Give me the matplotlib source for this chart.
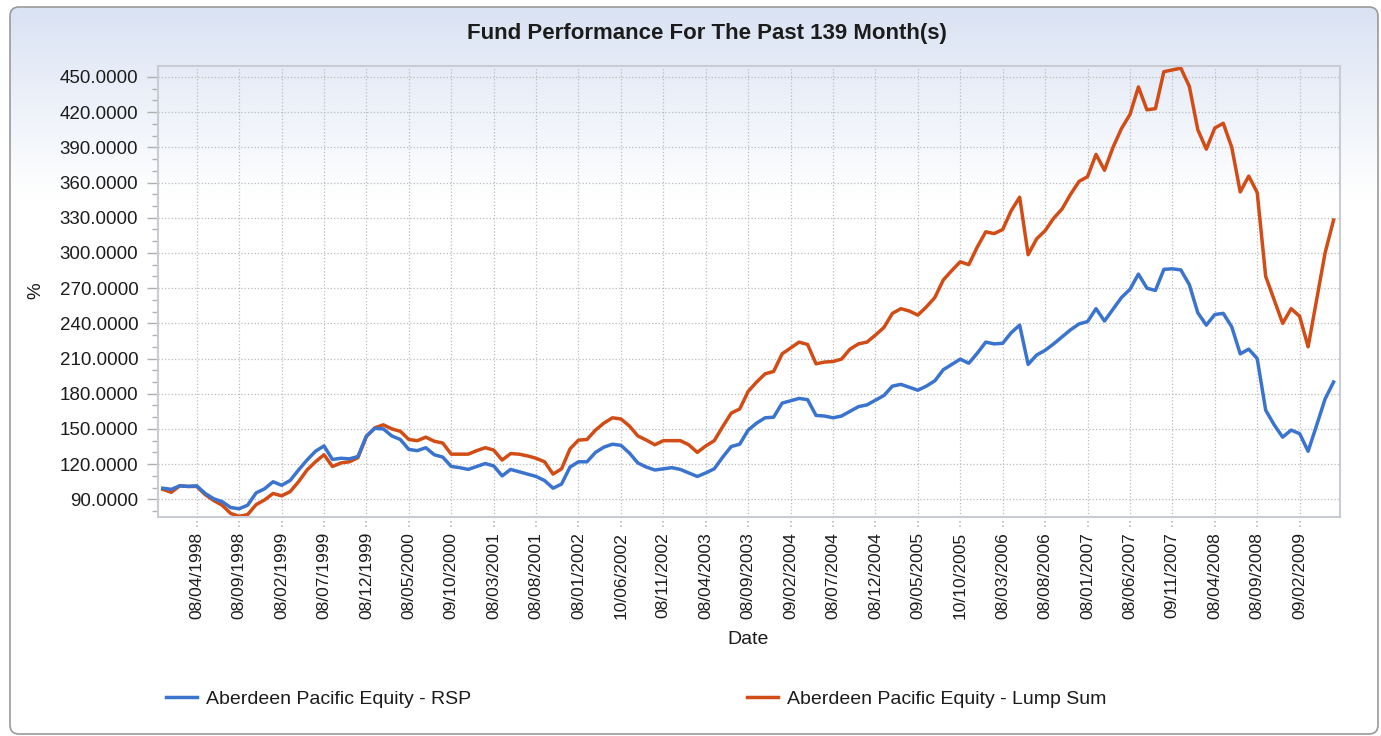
import numpy as np
import matplotlib
matplotlib.use('Agg')
import matplotlib.pyplot as plt
from matplotlib.patches import FancyBboxPatch
from matplotlib.lines import Line2D
from matplotlib.ticker import MultipleLocator, FormatStrFormatter

plt.rcParams['font.family'] = ['Liberation Sans', 'DejaVu Sans']

title = 'Fund Performance For The Past 139 Month(s)'
series_names = ['Aberdeen Pacific Equity - RSP', 'Aberdeen Pacific Equity - Lump Sum']

# monthly values, Dec 1997 .. Jun 2009 (139 months)
rsp = [
    99.5, 98.5, 101.5, 101, 101.5, 95, 90.5, 88, 83, 82,
    85, 95.5, 99, 105, 102, 106, 115, 123.5, 131, 135.5,
    124, 125, 124.5, 126.5, 144, 150.5, 150, 144, 141, 132.5,
    131.5, 134, 128, 126, 118, 117, 115.5, 118, 120.5, 118.5,
    110, 115.5, 113.5, 111.5, 109.5, 106, 99.5, 103, 117.5, 122,
    122, 130, 134.5, 137, 136, 129.5, 121, 117.5, 115, 116,
    117, 115.5, 112.5, 109.5, 112.5, 116, 126, 135, 137, 149,
    155, 159.5, 160, 172, 174, 176, 175, 161.5, 161, 159.5,
    161, 165, 169, 170.5, 174.5, 178.5, 186.5, 188, 185.5, 183,
    186.5, 191, 200.5, 205, 209.5, 206, 214.5, 224, 222.5, 223,
    232, 238.5, 205, 213, 217, 222.5, 228.5, 234.5, 239.5, 241.5,
    252.5, 242, 252, 262, 269, 282, 270, 268, 286, 286.5,
    285.5, 273, 249, 238.5, 247.5, 248.5, 237, 214, 218, 210,
    166, 153.5, 143, 149, 146, 131, 153, 175.5, 190,
]
lump_sum = [
    98.5, 96, 101.5, 101, 101, 94, 89, 85, 78, 75.5,
    77, 85.5, 89.5, 95, 93, 96.5, 105, 115, 122, 128,
    118, 121, 122, 125.5, 143.5, 151, 153.5, 150, 148, 141,
    140, 143, 139.5, 138, 128.5, 128.5, 128.5, 131.5, 134, 132,
    123.5, 129, 128.5, 127, 125, 122, 111.5, 116, 133, 140.5,
    141, 149, 155, 159.5, 158.5, 152.5, 144, 140.5, 136.5, 140,
    140, 140, 136.5, 130, 135.5, 140, 152, 163.5, 167, 182,
    190, 197, 199, 214, 219, 224, 222, 205.5, 207, 207.5,
    209.5, 218, 222.5, 224, 230, 236.5, 248.5, 252.5, 250.5, 247,
    254, 262, 277, 285, 292.5, 290, 305, 318, 316.5, 320,
    336, 347.5, 298.5, 312, 319, 329.5, 337.5, 350, 361, 365,
    384, 370.5, 390, 406, 418, 441.5, 422, 423, 454.5, 456,
    457.5, 442, 405, 388.5, 406.5, 410.5, 390, 352, 365.5, 351.5,
    280, 260, 240, 252.5, 246, 220, 260, 300, 328,
]
tick_labels = [
    '08/04/1998', '08/09/1998', '08/02/1999', '08/07/1999', '08/12/1999',
    '08/05/2000', '09/10/2000', '08/03/2001', '08/08/2001', '08/01/2002',
    '10/06/2002', '08/11/2002', '08/04/2003', '08/09/2003', '09/02/2004',
    '08/07/2004', '08/12/2004', '09/05/2005', '10/10/2005', '08/03/2006',
    '08/08/2006', '08/01/2007', '08/06/2007', '09/11/2007', '08/04/2008',
    '08/09/2008', '09/02/2009',
]
tick_index = list(range(4, 139, 5))

W, H = 1381, 736
blue = '#3a74cf'
orange = '#d24c16'
grid_c = '#bcbcbc'
text_c = '#1c1c1c'

fig = plt.figure(figsize=(W / 100, H / 100), dpi=100)
fig.patch.set_facecolor('white')

# panel background with a light blue gradient at the top
bg = fig.add_axes([0, 0, 1, 1])
bg.set_xlim(0, W)
bg.set_ylim(H, 0)
bg.axis('off')
rows = np.linspace(7, 734, 400)
t = np.clip((rows - 7) / 190.0, 0, 1)[:, None]
top = np.array([0.855, 0.890, 0.955])
grad = (top * (1 - t) + np.ones(3) * t)[:, None, :]
frame = FancyBboxPatch((10, 7), 1368, 727, boxstyle='round,pad=0,rounding_size=9',
                       fc='none', ec='#9a9a9a', lw=1.2)
bg.add_patch(frame)
im = bg.imshow(grad, extent=[10, 1378, 734, 7], aspect='auto', interpolation='bilinear')
im.set_clip_path(frame)

ax = fig.add_axes([157.7 / W, 1 - 516.7 / H, (1339.5 - 157.7) / W, (516.7 - 65.7) / H])
ax.set_facecolor('none')
x = np.arange(len(rsp))
ax.plot(x, lump_sum, color=orange, lw=2.5, solid_joinstyle='round')
ax.plot(x, rsp, color=blue, lw=2.5, solid_joinstyle='round')

ax.set_xlim(-0.6, 138.7)
ax.set_ylim(75.2, 459.6)
ax.yaxis.set_major_locator(MultipleLocator(30))
ax.yaxis.set_minor_locator(MultipleLocator(10))
ax.yaxis.set_major_formatter(FormatStrFormatter('%.4f'))
ax.set_xticks(tick_index)
ax.set_xticklabels(tick_labels, rotation=90, va='top', ha='center')

ax.grid(True, which='major', color=grid_c, ls=':', lw=0.9)
for s in ax.spines.values():
    s.set_color('#c9ccd2')
    s.set_linewidth(1.5)
ax.tick_params(axis='y', which='major', length=8, width=1, color='#b0b0b0',
               labelsize=13.5, labelcolor=text_c, pad=6)
ax.tick_params(axis='y', which='minor', length=4, width=1, color='#b0b0b0')
ax.tick_params(axis='x', length=0, labelsize=12.5, labelcolor=text_c, pad=11)
ax.vlines(tick_index, -0.022, 0, transform=ax.get_xaxis_transform(),
          colors=grid_c, linestyles=':', lw=1.2, clip_on=False)

fig.text(707 / W, 1 - 33 / H, title, ha='center', va='center',
         fontsize=16, fontweight='bold', color=text_c)
fig.text(36 / W, 1 - 291 / H, '%', rotation=90, ha='center', va='center',
         fontsize=13.5, color=text_c)
fig.text(748 / W, 1 - 640 / H, 'Date', ha='center', va='center',
         fontsize=14, color=text_c)

handles = [Line2D([], [], color=blue, lw=2.5), Line2D([], [], color=orange, lw=2.5)]
for h, name, x0 in zip(handles, series_names, [166, 747]):
    fig.legend([h], [name], loc='center left', bbox_to_anchor=(x0 / W, 1 - 699 / H),
               frameon=False, fontsize=14, handlelength=1.6, handletextpad=0.45,
               borderpad=0, borderaxespad=0, labelcolor=text_c)

fig.savefig('out.png', dpi=100)
